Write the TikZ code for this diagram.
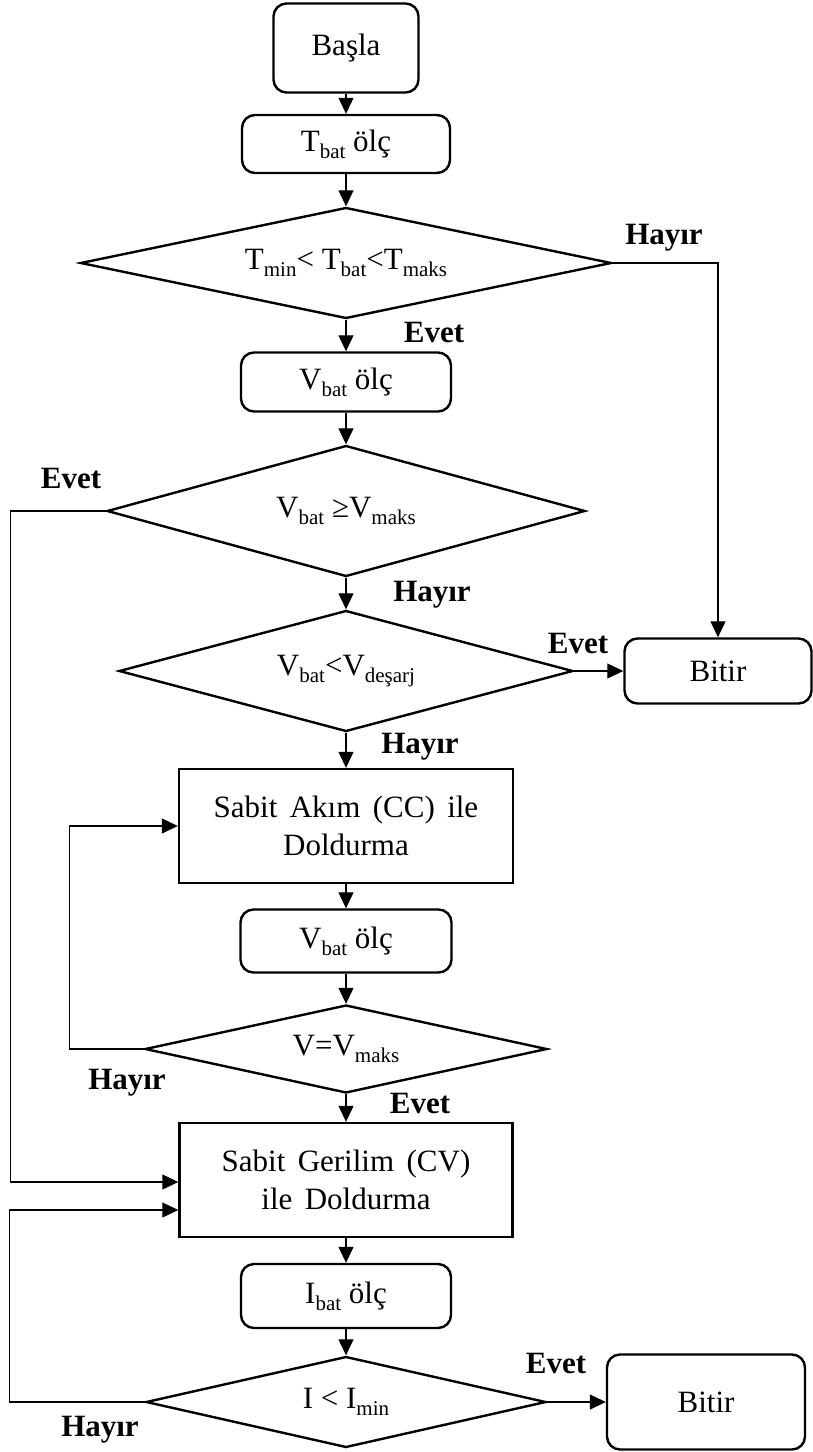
\documentclass[tikz,border=0pt]{standalone}
\usepackage{fontspec}
\setmainfont{Liberation Serif}
\usetikzlibrary{shapes.geometric,arrows.meta}
\newcommand{\altind}[1]{\raisebox{-7pt}{\fontsize{21}{21}\selectfont #1}}
\newcommand{\genis}{\spaceskip=0.4em\relax}

\begin{document}
\begin{tikzpicture}[
  x=1pt,y=-1pt,font=\fontsize{31}{38}\selectfont,
  kutu/.style={draw,line width=2.4pt,rounded corners=13pt,inner sep=0pt,align=center},
  islem/.style={draw,line width=2.4pt,inner sep=0pt,align=center,
    font=\fontsize{31}{38}\selectfont\genis},
  karar/.style={draw,shape=diamond,line width=2.4pt,inner sep=0pt,align=center},
  ok/.style={-{Triangle[length=16pt,width=15pt]},line width=1.2pt},
  etiket/.style={font=\bfseries\fontsize{31}{31}\selectfont},
]
\useasboundingbox (0,0) rectangle (813,1452);

\node[kutu,minimum width=145pt,minimum height=89pt] (basla) at (346,48) {Başla};
\node[kutu,minimum width=208pt,minimum height=58pt] (tbat) at (346,144)
  {T\altind{bat} ölç};
\node[karar,shape aspect=4.8,minimum width=531pt,minimum height=111pt] (k1) at (346,263)
  {T\altind{min}< T\altind{bat}<T\altind{maks}};
\node[kutu,minimum width=210pt,minimum height=59pt] (vbat1) at (346,382)
  {V\altind{bat} ölç};
\node[karar,shape aspect=3.65,minimum width=478pt,minimum height=131pt] (k2) at (346,511)
  {V\altind{bat} ≥V\altind{maks}};
\node[karar,shape aspect=3.75,minimum width=454pt,minimum height=121pt] (k3) at (346,671)
  {V\altind{bat}<V\altind{deşarj}};
\node[kutu,minimum width=187pt,minimum height=65pt] (bitir1) at (718,671) {Bitir};
\node[islem,minimum width=334pt,minimum height=114pt] (cc) at (346,826)
  {Sabit Akım (CC) ile\\Doldurma};
\node[kutu,minimum width=211pt,minimum height=63pt] (vbat2) at (346,941)
  {V\altind{bat} ölç};
\node[karar,shape aspect=4.57,minimum width=402pt,minimum height=88pt] (k4) at (346,1049)
  {V=V\altind{maks}};
\node[islem,minimum width=333pt,minimum height=114pt] (cv) at (346,1180)
  {Sabit Gerilim (CV)\\ile Doldurma};
\node[kutu,minimum width=210pt,minimum height=64pt] (ibat) at (346,1296)
  {I\altind{bat} ölç};
\node[karar,shape aspect=4.4,minimum width=400pt,minimum height=91pt] (k5) at (346,1402)
  {I < I\altind{min}};
\node[kutu,minimum width=198pt,minimum height=95pt] (bitir2) at (706,1402) {Bitir};

\node[etiket] (h1) at (664,238) {Hayır};
\node[etiket] (e1) at (434,332) {Evet};
\node[etiket] (e2) at (71,478) {Evet};
\node[etiket] (h2) at (432,595) {Hayır};
\node[etiket] (e3) at (578,643) {Evet};
\node[etiket] (h3) at (420,747) {Hayır};
\node[etiket] (h4) at (127,1083) {Hayır};
\node[etiket] (e4) at (420,1103) {Evet};
\node[etiket] (e5) at (556,1363) {Evet};
\node[etiket] (h5) at (100,1430) {Hayır};

\draw[ok] (basla) -- (tbat);
\draw[ok] (tbat) -- (k1);
\draw[ok] (k1) -- (vbat1);
\draw[ok] (k1.east) -| (bitir1.north);
\draw[ok] (vbat1) -- (k2);
\draw[ok] (k2) -- (k3);
\draw[ok] (k3.east) -- (bitir1.west);
\draw[ok] (k3) -- (cc);
\draw[ok] (cc) -- (vbat2);
\draw[ok] (vbat2) -- (k4);
\draw[ok] (k4.west) -- ++(-74,0) |- (cc.west);
\draw[ok] (k4) -- (cv);
\draw[ok] (k2.west) -- ++(-95,0) |- ([yshift=-2pt]cv.west);
\draw[ok] (cv) -- (ibat);
\draw[ok] (ibat) -- (k5);
\draw[ok] (k5.east) -- (bitir2.west);
\draw[ok] (k5.west) -- ++(-135,0) |- ([yshift=-30pt]cv.west);
\end{tikzpicture}
\end{document}
